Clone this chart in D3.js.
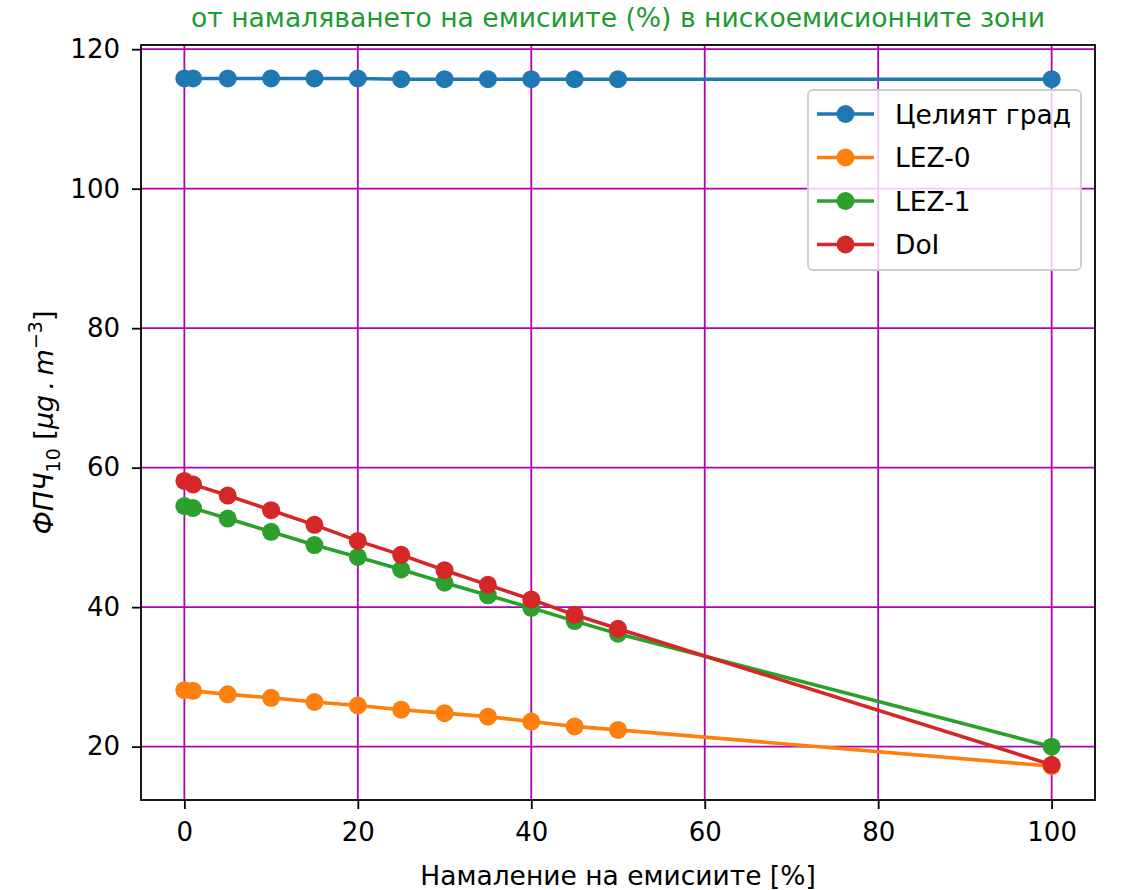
<!DOCTYPE html>
<html>
<head>
<meta charset="utf-8">
<script src="https://cdn.jsdelivr.net/npm/d3@7"></script>
<style>
  body { margin: 0; background: #fff; }
  svg text { font-family: 'DejaVu Sans', sans-serif; }
</style>
</head>
<body>
<div id="chart"></div>
<script>
const xValues = [0, 1, 5, 10, 15, 20, 25, 30, 35, 40, 45, 50, 100];
const wholeCity = [115.8, 115.8, 115.8, 115.8, 115.8, 115.8, 115.7, 115.7, 115.7, 115.7, 115.7, 115.7, 115.7];
const lez0 = [28.1, 28.0, 27.5, 27.0, 26.4, 25.9, 25.3, 24.8, 24.3, 23.6, 22.9, 22.4, 17.2];
const lez1 = [54.5, 54.2, 52.7, 50.8, 48.9, 47.2, 45.4, 43.5, 41.7, 39.9, 38.0, 36.2, 20.0];
const dol = [58.1, 57.6, 56.0, 53.9, 51.8, 49.5, 47.5, 45.3, 43.2, 41.1, 38.9, 36.9, 17.4];
const seriesNames = ['Целият град', 'LEZ-0', 'LEZ-1', 'DoI'];
const seriesColors = ['#1f77b4', '#ff7f0e', '#2ca02c', '#d62728'];
const xTicks = [0, 20, 40, 60, 80, 100];
const yTicks = [20, 40, 60, 80, 100, 120];
const titleText = 'от намаляването на емисиите (%) в нискоемисионните зони';
const xLabel = 'Намаление на емисиите [%]';

drawGraph = () => {
    const margin = { top: 45, right: 53, bottom: 90, left: 141 };
    const width = 1148 - margin.left - margin.right;
    const height = 890 - margin.top - margin.bottom;
    const series = [wholeCity, lez0, lez1, dol];

    const svg = d3.select('#chart').append('svg')
        .attr('width', 1148)
        .attr('height', 890);
    const focus = svg.append('g')
        .attr('transform', 'translate(' + margin.left + ',' + margin.top + ')');

    // Scales (matplotlib style 5% padding)
    const xScale = d3.scaleLinear().domain([-5, 105]).range([0, width]);
    const yScale = d3.scaleLinear().domain([12.35, 120.6]).range([height, 0]);

    // Grid
    const grid = focus.append('g').attr('class', 'grid');
    grid.selectAll('.vgrid').data(xTicks).enter().append('line')
        .attr('x1', d => xScale(d)).attr('x2', d => xScale(d))
        .attr('y1', 0).attr('y2', height)
        .attr('stroke', '#b000b8').attr('stroke-width', 1.8);
    grid.selectAll('.hgrid').data(yTicks).enter().append('line')
        .attr('y1', d => yScale(d)).attr('y2', d => yScale(d))
        .attr('x1', 0).attr('x2', width)
        .attr('stroke', '#b000b8').attr('stroke-width', 1.8);

    // Series
    const line = d3.line()
        .x((d, i) => xScale(xValues[i]))
        .y(d => yScale(d));
    series.forEach((vals, k) => {
        const g = focus.append('g');
        g.append('path')
            .datum(vals)
            .attr('d', line)
            .attr('fill', 'none')
            .attr('stroke', seriesColors[k])
            .attr('stroke-width', 3.6);
        g.selectAll('circle').data(vals).enter().append('circle')
            .attr('cx', (d, i) => xScale(xValues[i]))
            .attr('cy', d => yScale(d))
            .attr('r', 9)
            .attr('fill', seriesColors[k]);
    });

    // Axes
    const xAxis = d3.axisBottom(xScale).tickValues(xTicks).tickSize(9).tickPadding(14);
    const yAxis = d3.axisLeft(yScale).tickValues(yTicks).tickSize(9).tickPadding(12);
    const gx = focus.append('g')
        .attr('transform', 'translate(0,' + height + ')')
        .call(xAxis);
    const gy = focus.append('g').call(yAxis);
    [gx, gy].forEach(g => {
        g.select('.domain').remove();
        g.selectAll('line').attr('stroke', '#000').attr('stroke-width', 1.8);
        g.selectAll('text').attr('fill', '#000')
            .style('font-size', '26px')
            .style('font-family', 'DejaVu Sans, sans-serif');
    });

    // Frame
    focus.append('rect')
        .attr('width', width).attr('height', height)
        .attr('fill', 'none').attr('stroke', '#000').attr('stroke-width', 1.8);

    // Legend
    const legend = focus.append('g')
        .attr('transform', 'translate(' + (808 - margin.left) + ',' + (90 - margin.top) + ')');
    legend.append('rect')
        .attr('width', 273).attr('height', 180)
        .attr('rx', 5)
        .attr('fill', 'rgba(255,255,255,0.8)')
        .attr('stroke', '#cccccc').attr('stroke-width', 1.8);
    seriesNames.forEach((name, k) => {
        const ry = 24 + k * 43.5;
        legend.append('line')
            .attr('x1', 9).attr('x2', 66).attr('y1', ry).attr('y2', ry)
            .attr('stroke', seriesColors[k]).attr('stroke-width', 3.6);
        legend.append('circle')
            .attr('cx', 37.5).attr('cy', ry).attr('r', 9)
            .attr('fill', seriesColors[k]);
        legend.append('text')
            .attr('x', 87).attr('y', ry + 9.5)
            .style('font-size', '26.5px')
            .attr('fill', '#000')
            .text(name);
    });

    // Title
    svg.append('text')
        .attr('x', margin.left + width / 2).attr('y', 27)
        .attr('text-anchor', 'middle')
        .style('font-size', '26.6px')
        .attr('fill', '#1e9a32')
        .text(titleText);

    // X label
    svg.append('text')
        .attr('x', margin.left + width / 2).attr('y', 885)
        .attr('text-anchor', 'middle')
        .style('font-size', '26.5px')
        .attr('fill', '#000')
        .text(xLabel);

    // Y label (mathtext-like)
    const yl = svg.append('text')
        .attr('transform', 'translate(53,' + (margin.top + height / 2) + ') rotate(-90)')
        .attr('text-anchor', 'middle')
        .style('font-size', '27px')
        .attr('fill', '#000');
    yl.append('tspan').style('font-style', 'italic').text('ФПЧ');
    yl.append('tspan').attr('dy', 7).style('font-size', '19px').text('10');
    yl.append('tspan').attr('dy', -7).text(' [');
    yl.append('tspan').style('font-style', 'italic').text('μg\u2009.\u2009m');
    yl.append('tspan').attr('dy', -11).style('font-size', '19px').text('−3');
    yl.append('tspan').attr('dy', 11).text(']');
}

drawGraph();
</script>
</body>
</html>
